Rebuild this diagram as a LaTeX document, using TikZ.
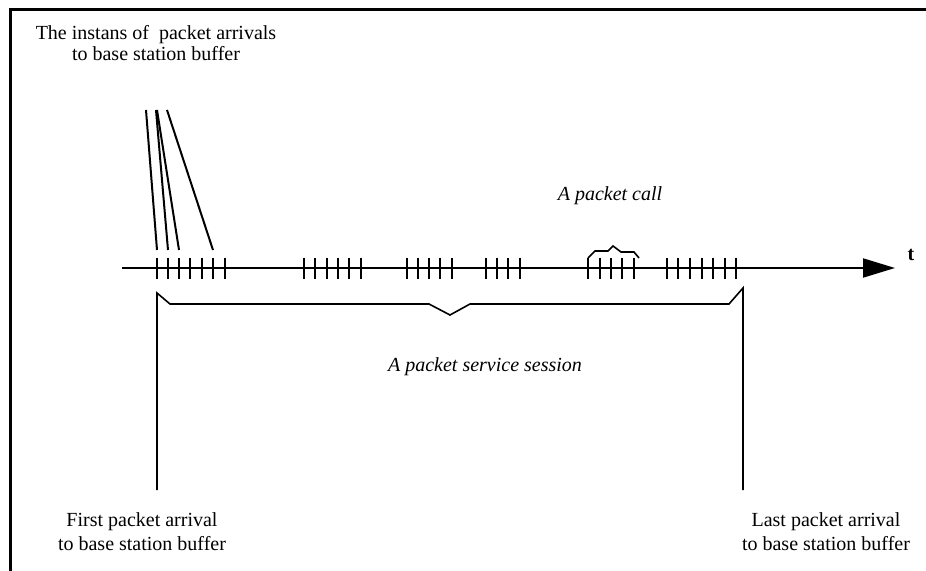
\documentclass[tikz,border=0pt]{standalone}
\usepackage{fontspec}
\setmainfont{Liberation Serif}
\usepackage{tikz}
\usetikzlibrary{arrows.meta}

\begin{document}
\begin{tikzpicture}[x=0.5pt,y=-0.5pt,line width=1pt,
    txt/.style={align=center,inner sep=0pt,font=\fontsize{10}{10.5}\selectfont},
    btxt/.style={align=center,inner sep=0pt,font=\fontsize{10}{12}\selectfont},
    itxt/.style={inner sep=0pt,font=\fontsize{10}{12}\selectfont\itshape},
    brace/.style={line width=0.8pt,line join=miter}]
    \useasboundingbox (0,0) rectangle (926,571);
    \draw[line width=1.5pt] (10,571) -- (10,10) -- (926,10);
    \node[txt] (instants) at (156,43) {The instans of\ \ packet arrivals\\to base station buffer};
    \node[itxt] (call) at (610,196) {A packet call};
    \node[itxt] (session) at (485,367) {A packet service session};
    \node[btxt] (first) at (142,532) {First packet arrival\\to base station buffer};
    \node[btxt] (last) at (826,532) {Last packet arrival\\to base station buffer};
    \coordinate (t0) at (122,268);
    \coordinate (tend) at (895,268);
    \draw[-{Triangle[length=16pt,width=9.5pt]}] (t0) -- (tend);
    \node[font=\fontsize{10}{12}\selectfont\bfseries] (t) at (911,255) {t};
    \foreach \x in {157,168,179,190,202,213,225,304,315,327,338,349,361,407,418,429,440,452,486,497,508,520,588,600,611,622,634,667,678,690,702,713,725,736}
        \draw (\x,258) -- (\x,279);
    \coordinate (i1) at (146,110);
    \coordinate (i2) at (156,110);
    \coordinate (i3) at (157,110);
    \coordinate (i4) at (167,110);
    \coordinate (a1) at (157,250);
    \coordinate (a2) at (168,250);
    \coordinate (a3) at (179,250);
    \coordinate (a4) at (213,250);
    \draw (i1) -- (a1);
    \draw (i2) -- (a2);
    \draw (i3) -- (a3);
    \draw (i4) -- (a4);
    \draw[brace] (588,258) -- (595,251) -- (608,251) -- (613,246) -- (621,252) -- (634,252) -- (639,258);
    \coordinate (s0) at (157,490);
    \coordinate (s1) at (743,490);
    \draw[brace] (s0) -- (157,293) -- (170,304) -- (429,304) -- (450,315) -- (470,304) -- (729,304) -- (743,288) -- (s1);
\end{tikzpicture}
\end{document}
